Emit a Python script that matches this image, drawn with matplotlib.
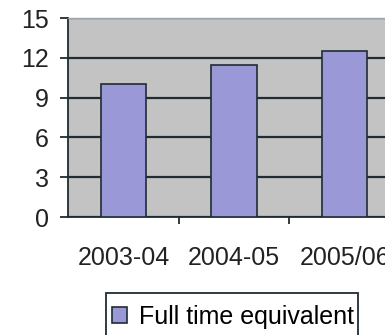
import matplotlib
matplotlib.use('Agg')
import matplotlib.pyplot as plt
from matplotlib.patches import Rectangle

plt.rcParams['font.family'] = ['Liberation Sans', 'DejaVu Sans']

years = ['2003-04', '2004-05', '2005/06']
fte = [10, 11.5, 12.5]
yticks = [0, 3, 6, 9, 12, 15]

dark = '#1f2c33'
W, H = 385, 335

fig = plt.figure(figsize=(W / 100, H / 100), dpi=100)
ax = fig.add_axes([0.177, 0.352, 0.862, 0.594])
ax.set_facecolor('#c3c3c3')

x = list(range(len(years)))
ax.bar(x, fte, width=0.41, color='#9b98d8', edgecolor=dark, linewidth=1.2,
       label='Full time equivalent', zorder=3)

ax.set_xlim(-0.5, 2.5)
ax.set_ylim(0, 15)
ax.set_yticks(yticks)
ax.yaxis.grid(True, color=dark, linewidth=1.6, zorder=1)
ax.set_axisbelow(True)

# category labels centred, tick marks between categories
ax.set_xticks(x)
ax.set_xticklabels(years)
ax.set_xticks([0.5, 1.5], minor=True)
ax.tick_params(axis='x', which='major', length=0, pad=21, labelsize=18, colors='#222222')
ax.tick_params(axis='x', which='minor', length=5, width=1.3, color=dark, direction='out')
ax.tick_params(axis='y', length=6, width=1.3, color=dark, pad=8, labelsize=18, labelcolor='#222222')

for s in ['left', 'bottom']:
    ax.spines[s].set_color(dark)
    ax.spines[s].set_linewidth(1.3)
ax.spines['top'].set_color('#9ea6ac')
ax.spines['top'].set_linewidth(1)
ax.spines['right'].set_visible(False)

# legend without its own frame; the box runs off the bottom edge
fig.legend(loc='center left', bbox_to_anchor=(112 / W, 1 - 317 / H),
           fontsize=18, frameon=False, handlelength=0.58, handleheight=0.58,
           handletextpad=0.5, borderpad=0, borderaxespad=0)
fig.patches.append(Rectangle((106 / W, -0.1), (358 - 106) / W, 0.1 + 1 - 293 / H,
                             transform=fig.transFigure, facecolor='none',
                             edgecolor=dark, linewidth=1.3))

plt.savefig('out.png', dpi=100)
